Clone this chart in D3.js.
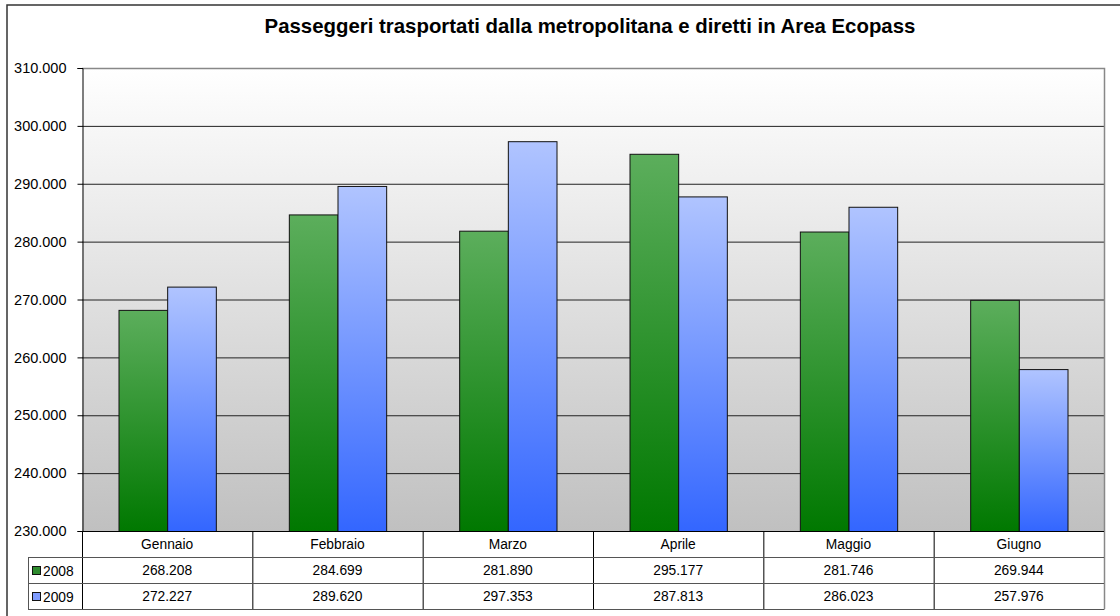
<!DOCTYPE html>
<html lang="it">
<head>
<meta charset="UTF-8"/>
<title>Passeggeri metropolitana</title>
<style>
  body { margin: 0; background: #fff; }
  svg { display: block; font-family: Arial, "Liberation Sans", sans-serif; }
  text { fill: #000; }
  .title { font-size: 20.4px; font-weight: bold; }
  .cell { font-size: 13.8px; }
</style>
</head>
<body>
<svg width="1120" height="616"></svg>
<script src="https://d3js.org/d3.v7.min.js"></script>
<script>
const months = ['Gennaio', 'Febbraio', 'Marzo', 'Aprile', 'Maggio', 'Giugno'];
const seriesNames = ['2008', '2009'];
const values2008 = [268208, 284699, 281890, 295177, 281746, 269944];
const values2009 = [272227, 289620, 297353, 287813, 286023, 257976];
const yTicks = [230000, 240000, 250000, 260000, 270000, 280000, 290000, 300000, 310000];
const titleText = 'Passeggeri trasportati dalla metropolitana e diretti in Area Ecopass';

const series = [
  { name: seriesNames[0], values: values2008, grad: 'gGreen', swatch: '#2e8b2e' },
  { name: seriesNames[1], values: values2009, grad: 'gBlue', swatch: '#7f9cff' }
];

const svg = d3.select('svg');
const plot = { left: 82, right: 1104, top: 68, bottom: 531 };
const rowH = 26;
const legendLeft = 28;

const fmt = d3.formatLocale({ decimal: ',', thousands: '.', grouping: [3] }).format(',d');

// gradients
const defs = svg.append('defs');
function grad(id, top, bottom) {
  const g = defs.append('linearGradient').attr('id', id)
    .attr('x1', 0).attr('y1', 0).attr('x2', 0).attr('y2', 1);
  g.append('stop').attr('offset', '0%').attr('stop-color', top);
  g.append('stop').attr('offset', '100%').attr('stop-color', bottom);
}
grad('gBack', '#ffffff', '#c0c0c0');
grad('gGreen', '#5cae5c', '#007800');
grad('gBlue', '#b0c4ff', '#3366ff');

// outer frame
svg.append('rect')
  .attr('x', 7).attr('y', 5).attr('width', 1125).attr('height', 620)
  .attr('fill', '#fff').attr('stroke', '#333').attr('stroke-width', 1.5);

svg.append('text').attr('class', 'title')
  .attr('x', 590).attr('y', 33).attr('text-anchor', 'middle')
  .text(titleText);

const x = d3.scaleBand().domain(months).range([plot.left, plot.right]).padding(0);
const xs = d3.scaleBand().domain(seriesNames).range([0, x.bandwidth()])
  .paddingInner(0).paddingOuter(0.75);
const y = d3.scaleLinear().domain([230000, 310000]).range([plot.bottom, plot.top]);

// plot background
svg.append('rect')
  .attr('x', plot.left).attr('y', plot.top)
  .attr('width', plot.right - plot.left).attr('height', plot.bottom - plot.top)
  .attr('fill', 'url(#gBack)');

// grid lines
svg.append('g').selectAll('line')
  .data(yTicks.slice(1, -1))
  .join('line')
  .attr('x1', plot.left).attr('x2', plot.right)
  .attr('y1', d => y(d) + 0.5).attr('y2', d => y(d) + 0.5)
  .attr('stroke', '#222').attr('stroke-width', 1);

// plot border top/right
svg.append('path')
  .attr('d', `M${plot.left},${plot.top + 0.5}H${plot.right + 0.5}V${plot.bottom}`)
  .attr('fill', 'none').attr('stroke', '#888').attr('stroke-width', 1.5);

// bars
const groups = svg.append('g').selectAll('g')
  .data(series).join('g');
groups.selectAll('rect')
  .data(s => s.values.map((v, i) => ({ s, v, m: months[i] })))
  .join('rect')
  .attr('x', d => x(d.m) + xs(d.s.name) + 0.5)
  .attr('y', d => y(d.v) + 0.5)
  .attr('width', xs.bandwidth())
  .attr('height', d => y(230000) - y(d.v))
  .attr('fill', d => `url(#${d.s.grad})`)
  .attr('stroke', '#111').attr('stroke-width', 1);

// y axis
const yAxis = svg.append('g')
  .attr('transform', `translate(${plot.left + 0.5},0)`)
  .call(d3.axisLeft(y).tickValues(yTicks).tickSize(5).tickPadding(11).tickFormat(fmt));
yAxis.select('.domain').attr('stroke', '#000');
yAxis.selectAll('.tick line').attr('stroke', '#000');
yAxis.selectAll('text').attr('fill', '#000')
  .style('font-family', 'Arial, "Liberation Sans", sans-serif').style('font-size', '14.5px');

// data table
const table = svg.append('g');
const tBottom = plot.bottom + 3 * rowH;
table.append('path')
  .attr('d', `M${plot.left + 0.5},${plot.bottom}V${tBottom}`)
  .attr('stroke', '#000').attr('fill', 'none');
table.selectAll('line.v')
  .data(months)
  .join('line')
  .attr('x1', d => x(d) + x.bandwidth() + 0.5).attr('x2', d => x(d) + x.bandwidth() + 0.5)
  .attr('y1', plot.bottom).attr('y2', tBottom)
  .attr('stroke', (d, i) => i === months.length - 1 ? '#888' : '#000')
  .attr('stroke-width', (d, i) => i === months.length - 1 ? 1.5 : 1);
[1, 2].forEach(r => {
  table.append('line')
    .attr('x1', legendLeft).attr('x2', plot.right)
    .attr('y1', plot.bottom + r * rowH + 0.5).attr('y2', plot.bottom + r * rowH + 0.5)
    .attr('stroke', '#555');
});
table.append('line')
  .attr('x1', plot.left).attr('x2', plot.right)
  .attr('y1', plot.bottom + 0.5).attr('y2', plot.bottom + 0.5)
  .attr('stroke', '#000');
table.append('line')
  .attr('x1', legendLeft).attr('x2', plot.right + 0.5)
  .attr('y1', tBottom + 0.5).attr('y2', tBottom + 0.5)
  .attr('stroke', '#555');
table.append('line')
  .attr('x1', legendLeft + 0.5).attr('x2', legendLeft + 0.5)
  .attr('y1', plot.bottom + rowH).attr('y2', tBottom)
  .attr('stroke', '#555');

table.selectAll('text.cat')
  .data(months)
  .join('text')
  .attr('class', 'cell')
  .attr('x', d => x(d) + x.bandwidth() / 2)
  .attr('y', plot.bottom + rowH / 2 + 5)
  .attr('text-anchor', 'middle')
  .text(d => d);

series.forEach((s, r) => {
  const cy = plot.bottom + (r + 1) * rowH + rowH / 2;
  table.selectAll(null)
    .data(s.values)
    .join('text')
    .attr('class', 'cell')
    .attr('x', (d, i) => x(months[i]) + x.bandwidth() / 2)
    .attr('y', cy + 5)
    .attr('text-anchor', 'middle')
    .text(d => fmt(d));
  table.append('rect')
    .attr('x', legendLeft + 4.5).attr('y', cy - 3.5)
    .attr('width', 8).attr('height', 8)
    .attr('fill', s.swatch).attr('stroke', '#111');
  table.append('text')
    .attr('class', 'cell')
    .attr('x', legendLeft + 15).attr('y', cy + 5.5)
    .text(s.name);
});
</script>
</body>
</html>
